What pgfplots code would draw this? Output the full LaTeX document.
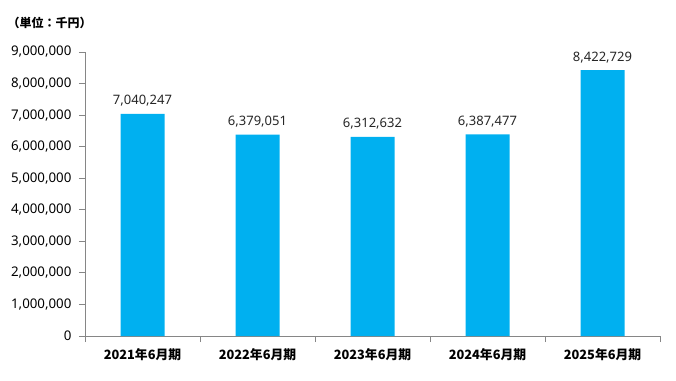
\documentclass[border=0pt]{standalone}
\usepackage{pgfplots}
\pgfplotsset{compat=1.18}
\usepackage{fontspec}
\setmainfont{Noto Sans}
\newfontfamily\cjk{Noto Sans CJK JP}
\definecolor{barblue}{HTML}{00B0F0}
\definecolor{axgray}{HTML}{868686}
\definecolor{lblgray}{HTML}{262626}
\begin{document}
\begin{tikzpicture}[x=1pt,y=1pt]
\path (0,0) rectangle (676,380);
\node[anchor=west,font=\cjk\bfseries\fontsize{12}{14}\selectfont] at (4,357) {（単位：千円）};
\begin{axis}[
  at={(85pt,44pt)}, anchor=south west,
  scale only axis, width=575pt, height=284pt,
  ymin=0, ymax=9000000,
  ytick={0,1000000,...,9000000},
  xmin=-0.5, xmax=4.5,
  xtick={0,1,2,3,4},
  xticklabels={2021年6月期,2022年6月期,2023年6月期,2024年6月期,2025年6月期},
  minor xtick={-0.5,0.5,1.5,2.5,3.5,4.5},
  major x tick style={draw=none},
  minor x tick style={draw=axgray, line width=0.8pt},
  minor tick length=6pt,
  major tick length=6pt,
  tick align=outside,
  axis x line*=bottom, axis y line*=left,
  axis line style={draw=axgray, line width=0.8pt, -},
  y tick style={draw=axgray, line width=0.8pt},
  xtick pos=bottom, ytick pos=left,
  scaled y ticks=false,
  /pgf/number format/.cd, fixed, 1000 sep={,}, assume math mode=true,
  /pgfplots/.cd,
  yticklabel style={font=\fontsize{13.3}{15}\selectfont, text=black, xshift=-4pt},
  xticklabel style={font=\cjk\bfseries\fontsize{12.8}{15}\selectfont, text=black, yshift=-3pt},
  ymajorgrids=false,
  nodes near coords={\pgfplotspointmeta},
  point meta=explicit symbolic,
  every node near coord/.append style={font=\fontsize{13}{15}\selectfont, text=lblgray, yshift=4pt},
]
\addplot[ybar, bar width=44pt, fill=barblue, draw=none] table[meta=lbl] {
x y lbl
0 7040247 7,040,247
1 6379051 6,379,051
2 6312632 6,312,632
3 6387477 6,387,477
4 8422729 8,422,729
};
\end{axis}
\end{tikzpicture}
\end{document}
